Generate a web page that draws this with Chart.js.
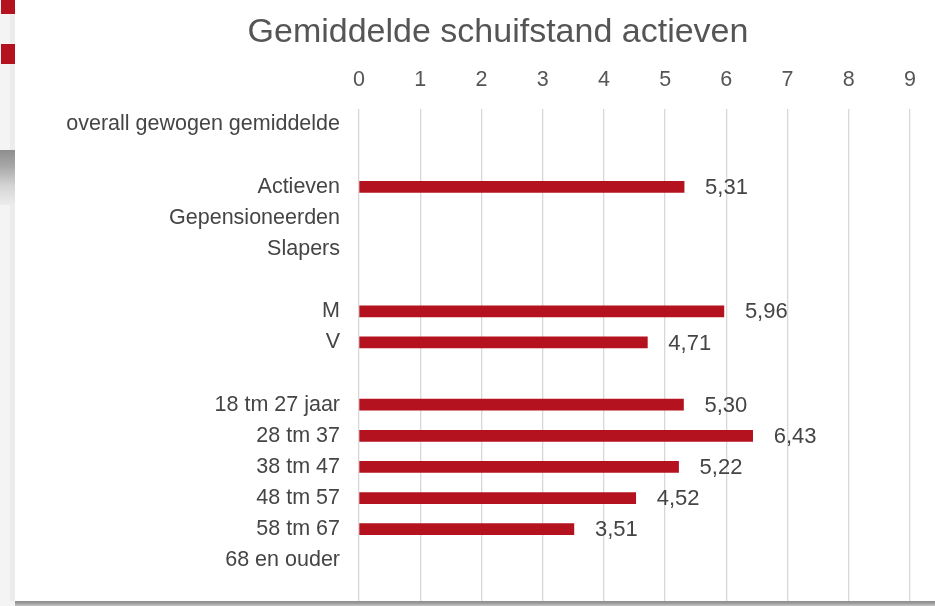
<!DOCTYPE html>
<html>
<head>
<meta charset="utf-8">
<script src="https://cdn.jsdelivr.net/npm/chart.js@4/dist/chart.umd.min.js"></script>
<style>
  html, body { margin: 0; padding: 0; }
  body { width: 935px; height: 606px; position: relative; overflow: hidden; background: #f4f4f4; }
  .strip { position: absolute; left: 10px; top: 0; width: 5px; height: 601px; background: #ececec; }
  .red { position: absolute; left: 1px; width: 14px; background: #b5121f; }
  .fade { position: absolute; left: 0; top: 150px; width: 15px; height: 55px;
          background: linear-gradient(#8e8e8e, #a8a8a8 30%, #d4d4d4 65%, #ececec); }
  .shadow { position: absolute; left: 15px; top: 601px; width: 920px; height: 5px;
            background: linear-gradient(#8a8a8a, #a0a0a0 50%, #c8c8c8); }
  .panel { position: absolute; left: 15px; top: 0; width: 920px; height: 601px; background: #fff; overflow: hidden; }
  canvas { position: absolute; left: 0; top: 0; }
</style>
</head>
<body>
<div class="strip"></div>
<div class="red" style="top:0;height:14px"></div>
<div class="red" style="top:44px;height:20px"></div>
<div class="fade"></div>
<div class="shadow"></div>
<div class="panel"><canvas id="chart" width="920" height="608"></canvas></div>

<script>
// --- data ---
const titleText = 'Gemiddelde schuifstand actieven';

const categories = [
  'overall gewogen gemiddelde',
  '',
  'Actieven',
  'Gepensioneerden',
  'Slapers',
  '',
  'M',
  'V',
  '',
  '18 tm 27 jaar',
  '28 tm 37',
  '38 tm 47',
  '48 tm 57',
  '58 tm 67',
  '68 en ouder',
  '',
];

const values = [
  null, null,
  5.31, null, null,
  null,
  5.96, 4.71,
  null,
  5.30, 6.43, 5.22, 4.52, 3.51, null,
  null,
];

const xTicks = [0, 1, 2, 3, 4, 5, 6, 7, 8, 9];

const BAR_RED  = '#b5121f';
const TEXT     = '#454545';
const GRID     = '#d8d8d8';
const FONT     = "'Liberation Sans', Arial, sans-serif";

// title sits off-centre in the reference, so draw it ourselves
const titlePlugin = {
  id: 'offsetTitle',
  afterDraw(chart) {
    const { ctx } = chart;
    ctx.save();
    ctx.font = `34px ${FONT}`;
    ctx.fillStyle = '#555';
    ctx.textAlign = 'center';
    ctx.textBaseline = 'middle';
    ctx.fillText(titleText, 483, 33);
    ctx.restore();
  },
};

// value labels right of each bar, dutch decimal comma
const valueLabels = {
  id: 'valueLabels',
  afterDatasetsDraw(chart) {
    const { ctx } = chart;
    const meta = chart.getDatasetMeta(0);
    ctx.save();
    ctx.font = `22px ${FONT}`;
    ctx.fillStyle = TEXT;
    ctx.textAlign = 'left';
    ctx.textBaseline = 'middle';
    meta.data.forEach((bar, i) => {
      const v = values[i];
      if (v === null) return;
      ctx.fillText(v.toFixed(2).replace('.', ','), bar.x + 21, bar.y + 1);
    });
    ctx.restore();
  },
};

new Chart(document.getElementById('chart'), {
  type: 'bar',
  data: {
    labels: categories,
    datasets: [{
      data:            values,
      backgroundColor: BAR_RED,
      borderWidth:     0,
      barThickness:    11,
    }],
  },
  options: {
    indexAxis:  'y',
    responsive: false,
    animation:  false,
    layout: { padding: { left: 0, right: 25, top: 68, bottom: 1 } },
    plugins: {
      legend:  { display: false },
      tooltip: { enabled: false },
      title:   { display: false },
    },
    scales: {
      x: {
        position: 'top',
        min: 0,
        max: 9,
        afterBuildTicks: (scale) => { scale.ticks = xTicks.map((v) => ({ value: v })); },
        afterFit: (scale) => { scale.height = 41; },
        border: { display: false },
        grid:   { color: GRID, lineWidth: 1.3, drawTicks: false },
        ticks:  { color: '#555', padding: 16, font: { family: FONT, size: 21.5 } },
      },
      y: {
        afterFit: (scale) => {
          scale.width = 344;
          scale.paddingTop = 0;
          scale.paddingBottom = 0;
        },
        border: { display: false },
        grid:   { display: false, drawTicks: false },
        ticks:  { color: TEXT, padding: 19, autoSkip: false, font: { family: FONT, size: 21.5 } },
      },
    },
  },
  plugins: [valueLabels, titlePlugin],
});
</script>
</body>
</html>
